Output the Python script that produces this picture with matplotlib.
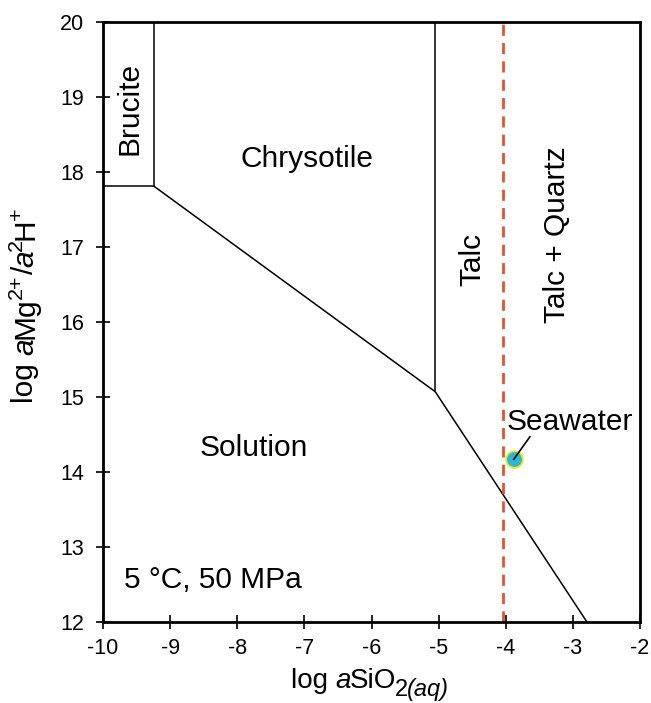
import matplotlib
matplotlib.use("Agg")
import matplotlib.pyplot as plt

plt.rcParams['font.family'] = ['Liberation Sans', 'DejaVu Sans']
plt.rcParams['axes.unicode_minus'] = False

# Phase boundaries (log aSiO2, log aMg2+/a2H+)
brucite_top_x = [-9.24, -9.24]
brucite_top_y = [17.81, 20.0]
brucite_left_x = [-10.0, -9.24]
brucite_left_y = [17.81, 17.81]
chry_sol_x = [-9.24, -5.05]
chry_sol_y = [17.81, 15.07]
chry_talc_x = [-5.05, -5.05]
chry_talc_y = [15.07, 20.0]
talc_sol_x = [-5.05, -2.79]
talc_sol_y = [15.07, 12.0]
quartz_sat_x = -4.04
seawater_x = -3.88
seawater_y = 14.17
seawater_leader_start = (-3.64, 14.47)

xticks = [-10, -9, -8, -7, -6, -5, -4, -3, -2]
yticks = [12, 13, 14, 15, 16, 17, 18, 19, 20]

W, H = 651, 703
fig = plt.figure(figsize=(W / 100, H / 100), dpi=100)
ax = fig.add_axes([103/W, 1 - 622/H, 537/W, 600/H])

for xs, ys in [(brucite_top_x, brucite_top_y), (brucite_left_x, brucite_left_y),
               (chry_sol_x, chry_sol_y), (chry_talc_x, chry_talc_y), (talc_sol_x, talc_sol_y)]:
    ax.plot(xs, ys, color='black', lw=1.1, solid_capstyle='butt')

ax.axvline(quartz_sat_x, color='#e8502f', lw=2, linestyle=(0, (4, 2.6)))

ax.plot([seawater_x], [seawater_y], 'o', ms=12, mfc='#29b8d8', mec='#f2e418', mew=1.3, zorder=5)
ax.plot([seawater_leader_start[0], seawater_x], [seawater_leader_start[1], seawater_y],
        color='black', lw=1.2, zorder=6)

FS = 21.5
ax.text(-3.05, 14.67, 'Seawater', fontsize=FS, ha='center', va='center')
ax.text(-9.61, 18.85, 'Brucite', rotation=90, fontsize=FS, ha='center', va='center')
ax.text(-6.96, 18.17, 'Chrysotile', fontsize=FS, ha='center', va='center')
ax.text(-4.50, 16.84, 'Talc', rotation=90, fontsize=FS, ha='center', va='center')
ax.text(-3.24, 17.17, 'Talc + Quartz', rotation=90, fontsize=FS, ha='center', va='center')
ax.text(-7.76, 14.32, 'Solution', fontsize=FS, ha='center', va='center')
ax.text(-9.69, 12.56, '5 °C, 50 MPa', fontsize=FS, ha='left', va='center')

ax.set_xlim(-10, -2)
ax.set_ylim(12, 20)
ax.set_xticks(xticks)
ax.set_yticks(yticks)
ax.tick_params(direction='inout', length=9.5, width=1.2, labelsize=15.5)
ax.tick_params(axis='x', pad=7)
ax.tick_params(axis='y', pad=9)
for s in ax.spines.values():
    s.set_linewidth(2)

renderer = fig.canvas.get_renderer()


def rich_text(x0, y0, pieces, rotation=0):
    """Draw text pieces one after another; x0, y0 in pixels from bottom-left."""
    pos = 0.0
    for txt, size, style, shift, kern in pieces:
        pos += kern
        if rotation == 0:
            x, y = x0 + pos, y0 + shift
        else:
            x, y = x0 - shift, y0 + pos
        t = fig.text(x / W, y / H, txt, fontsize=size, style=style, rotation=rotation,
                     ha='left', va='baseline', rotation_mode='anchor')
        bb = t.get_window_extent(renderer)
        pos += bb.width if rotation == 0 else bb.height


XL = 20
rich_text(291, H - 688, [
    ('log ', XL, 'normal', 0, 0),
    ('a', XL, 'italic', 0, 0),
    ('SiO', XL, 'normal', 0, -1),
    ('2', XL * 0.85, 'normal', -8, -2),
    ('(aq)', XL * 0.85, 'italic', -8, -1),
])

YL = 21.5
rich_text(33, H - 403, [
    ('log ', YL, 'normal', 0, 0),
    ('a', YL, 'italic', 0, 0),
    ('Mg', YL, 'normal', 0, -1),
    ('2+', YL * 0.72, 'normal', 11, -1),
    ('/', YL, 'normal', 0, 0),
    ('a', YL, 'italic', 0, -1),
    ('2', YL * 0.72, 'normal', 11, -1),
    ('H', YL, 'normal', 0, -1),
    ('+', YL * 0.72, 'normal', 11, -1),
], rotation=90)

fig.savefig('out.png', dpi=100)
